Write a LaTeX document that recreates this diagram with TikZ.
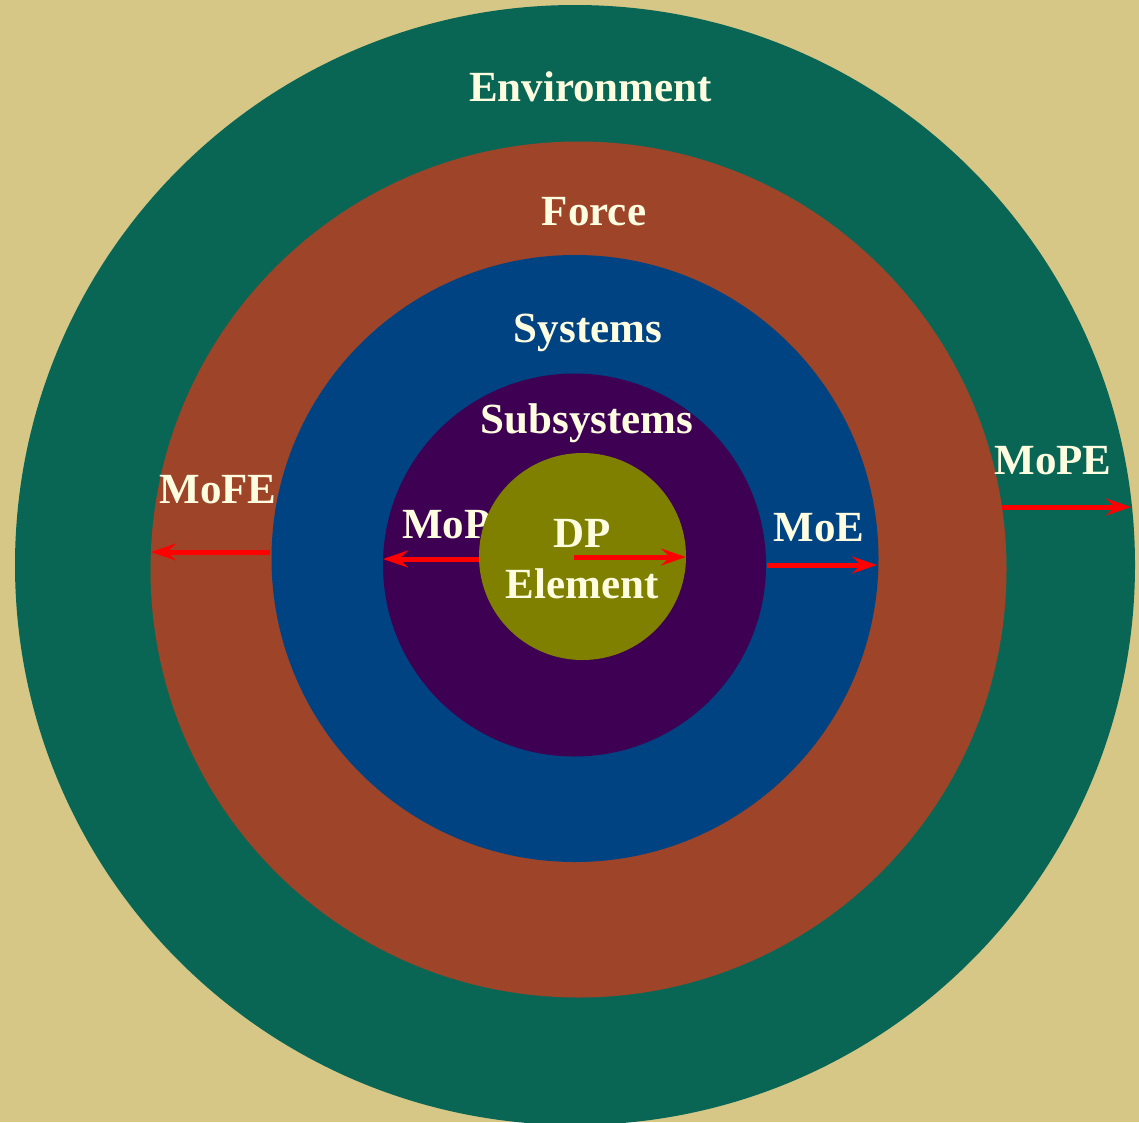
\documentclass[tikz,border=0pt]{standalone}
\usepackage{fontspec}
\setmainfont{Liberation Serif}
\usetikzlibrary{arrows.meta}
\definecolor{bgtan}{RGB}{214,199,134}
\definecolor{envgreen}{RGB}{9,102,85}
\definecolor{forcebrown}{RGB}{158,68,40}
\definecolor{sysblue}{RGB}{0,67,130}
\definecolor{subpurple}{RGB}{62,0,82}
\definecolor{elemolive}{RGB}{128,128,0}
\definecolor{labelcream}{RGB}{255,253,224}
\tikzset{
  ring/.style={circle, inner sep=0pt, outer sep=0pt, draw=none},
  lbl/.style={anchor=base, inner sep=0pt, text=labelcream, font=\fontsize{43}{50}\selectfont\bfseries},
  arr/.style={draw=red, line width=5pt, -{Stealth[length=25pt,width=17pt,inset=9pt]}}
}
\begin{document}
\begin{tikzpicture}[x=1pt,y=-1pt]
\fill[bgtan] (0,0) rectangle (1139,1122);
\useasboundingbox (0,0) rectangle (1139,1122);
\node[ring, fill=envgreen, minimum size=1120pt] (env) at (575,565) {};
\node[ring, fill=forcebrown, minimum size=856pt] (force) at (578.5,569.5) {};
\node[ring, fill=sysblue, minimum size=607pt] (sys) at (575,558.5) {};
\node[ring, fill=subpurple, minimum size=383pt] (sub) at (574.5,565) {};
\node[lbl] (tenv) at (590.5,101) {Environment};
\node[lbl] (tforce) at (594,225) {Force};
\node[lbl] (tsys) at (588,342) {Systems};
\node[lbl] (tsub) at (587,433) {Subsystems};
\node[lbl] (tmofe) at (218,503) {MoFE};
\node[lbl] (tmop) at (446.5,538) {MoP};
\node[lbl] (tmoe) at (819,541) {MoE};
\node[lbl] (tmope) at (1053,474) {MoPE};
\node[ring, fill=elemolive, minimum size=207pt] (elem) at (582.5,556.5) {};
\node[lbl] (tdp) at (582,547) {DP};
\node[lbl] (telem) at (582,598) {Element};
% arrow end points on circle edges
\coordinate (fe1) at (270,552);
\coordinate (fe2) at (151,552);
\coordinate (p1) at (479,559);
\coordinate (p2) at (383,559);
\coordinate (dp1) at (574,557);
\coordinate (dp2) at (686,557);
\coordinate (e1) at (767,565);
\coordinate (e2) at (877,565);
\coordinate (pe1) at (1002,507);
\coordinate (pe2) at (1131,507);
\draw[arr] (fe1) -- (fe2);
\draw[arr] (p1) -- (p2);
\draw[arr] (dp1) -- (dp2);
\draw[arr] (e1) -- (e2);
\draw[arr] (pe1) -- (pe2);
\end{tikzpicture}
\end{document}
